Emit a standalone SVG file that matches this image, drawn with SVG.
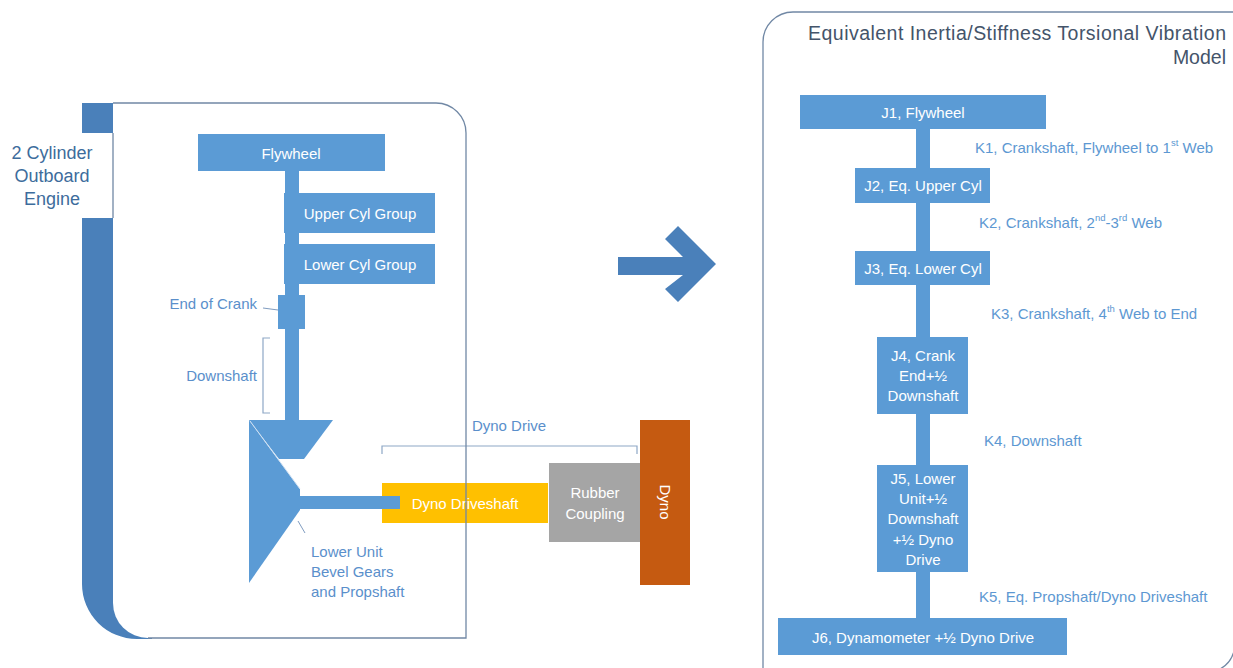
<svg xmlns="http://www.w3.org/2000/svg" width="1233" height="668" viewBox="0 0 1233 668">
<defs>
<style>
text{font-family:"Liberation Sans",Arial,sans-serif;}
.box{fill:#5b9bd5;}
.shaft{fill:#5b9bd5;}
.wt{fill:#ffffff;font-size:15px;text-anchor:middle;dominant-baseline:central;}
.k{fill:#5d98d2;font-size:15px;dominant-baseline:central;}
.ann{fill:#5a8fcb;font-size:15px;dominant-baseline:central;}
.brk{fill:none;stroke:#8ea7c6;stroke-width:1.2;}
.panel{fill:none;stroke:#7188a5;stroke-width:1.3;}
</style>
</defs>
<rect width="1233" height="668" fill="#ffffff"/>

<!-- Left engine panel -->
<g id="engine-panel">
<rect x="82" y="103" width="31" height="30" fill="#4a80ba"/>
<path d="M82,218 H114 V590 H152 V639 H137 A55,55 0 0 1 82,584 Z" fill="#4a80ba"/>
<path d="M113,103 H436 A30,30 0 0 1 466,133 V638 H148 A35,35 0 0 1 113,603 Z" fill="#ffffff"/>
<text x="52" y="153" fill="#3d6c9c" font-size="18" text-anchor="middle" dominant-baseline="central">2 Cylinder</text>
<text x="52" y="176" fill="#3d6c9c" font-size="18" text-anchor="middle" dominant-baseline="central">Outboard</text>
<text x="52" y="199" fill="#3d6c9c" font-size="18" text-anchor="middle" dominant-baseline="central">Engine</text>
</g>

<g id="connectors">
<rect class="shaft" x="285" y="171" width="14" height="250"/>
<rect class="shaft" x="916" y="128" width="14" height="492"/>
<rect class="shaft" x="299" y="496" width="101" height="13"/>
</g>

<g id="flywheel">
<rect class="box" x="198" y="134" width="187" height="37"/>
<text class="wt" x="291" y="153">Flywheel</text>
</g>
<g id="upper-cyl">
<rect class="box" x="284" y="193" width="151" height="40"/>
<text class="wt" x="360" y="213" font-size="16">Upper Cyl Group</text>
</g>
<g id="lower-cyl">
<rect class="box" x="284" y="244" width="151" height="40"/>
<text class="wt" x="360" y="264" font-size="16">Lower Cyl Group</text>
</g>
<g id="end-of-crank">
<rect class="box" x="278" y="295" width="27" height="34"/>
<text class="ann" x="257" y="303" text-anchor="end">End of Crank</text>
<line x1="263" y1="308" x2="278" y2="310" stroke="#7f9cc0" stroke-width="1"/>
</g>
<g id="downshaft">
<path class="brk" d="M270,338 H263 V413 H270"/>
<text class="ann" x="257" y="375" text-anchor="end">Downshaft</text>
</g>
<g id="bevel-gears">
<polygon class="box" points="249,420 333,420 304,459 279,459"/>
<polygon class="box" points="249,420 300,489 300,510 249,583"/>
<line x1="250" y1="421" x2="300" y2="489" stroke="#cfe0f2" stroke-width="1"/>
<line x1="298" y1="521" x2="305" y2="533" stroke="#7f9cc0" stroke-width="1"/>
<text class="ann" x="311" y="551">Lower Unit</text>
<text class="ann" x="311" y="571">Bevel Gears</text>
<text class="ann" x="311" y="591">and Propshaft</text>
</g>
<g id="dyno-driveshaft">
<rect x="382" y="483" width="166" height="40" fill="#ffc000"/>
<rect class="shaft" x="299" y="496" width="101" height="13"/>
<text class="wt" x="465" y="503">Dyno Driveshaft</text>
</g>
<g id="rubber-coupling">
<rect x="549" y="463" width="91" height="79" fill="#a5a5a5"/>
<text class="wt" x="595" y="492">Rubber</text>
<text class="wt" x="595" y="513">Coupling</text>
</g>
<g id="dyno">
<rect x="640" y="420" width="50" height="165" fill="#c55a11"/>
<text class="wt" x="665" y="502" transform="rotate(90 665 502)">Dyno</text>
</g>
<g id="dyno-drive">
<path class="brk" d="M382,454 V446 H637 V454"/>
<text class="ann" x="509" y="425" text-anchor="middle">Dyno Drive</text>
</g>
<path class="panel" d="M148,638 H466 V133 A30,30 0 0 0 436,103 H113 M113,133 V218"/>

<!-- Arrow -->
<g id="arrow">
<polygon points="618,257 683,257 665,239 678,226 716,264 678,302 665,289 683,275 618,275" fill="#4a80ba"/>
</g>

<!-- Right model panel -->
<g id="model-panel">
<path class="panel" d="M763,668 V42 A30,30 0 0 1 793,12 H1233"/>
<path class="panel" d="M1234,651 Q1231,663 1220,669"/>
<text x="1226" y="33" fill="#44546a" font-size="19.5" text-anchor="end" dominant-baseline="central" textLength="418" lengthAdjust="spacing">Equivalent Inertia/Stiffness Torsional Vibration</text>
<text x="1226" y="57" fill="#44546a" font-size="19.5" text-anchor="end" dominant-baseline="central">Model</text>
</g>
<g id="j1">
<rect class="box" x="800" y="95" width="246" height="34"/>
<text class="wt" x="923" y="112">J1, Flywheel</text>
</g>
<g id="j2">
<rect class="box" x="855" y="168" width="135" height="35"/>
<text class="wt" x="923" y="185">J2, Eq. Upper Cyl</text>
</g>
<g id="j3">
<rect class="box" x="855" y="251" width="135" height="34"/>
<text class="wt" x="923" y="268">J3, Eq. Lower Cyl</text>
</g>
<g id="j4">
<rect class="box" x="877" y="337" width="91" height="77"/>
<text class="wt" x="923" y="355">J4, Crank</text>
<text class="wt" x="923" y="375">End+½</text>
<text class="wt" x="923" y="395">Downshaft</text>
</g>
<g id="j5">
<rect class="box" x="877" y="465" width="91" height="107"/>
<text class="wt" x="923" y="478">J5, Lower</text>
<text class="wt" x="923" y="498">Unit+½</text>
<text class="wt" x="923" y="518">Downshaft</text>
<text class="wt" x="923" y="539">+½ Dyno</text>
<text class="wt" x="923" y="559">Drive</text>
</g>
<g id="j6">
<rect class="box" x="778" y="618" width="289" height="37"/>
<text class="wt" x="923" y="637">J6, Dynamometer +½ Dyno Drive</text>
</g>
<g id="k-labels">
<text class="k" x="975" y="147">K1, Crankshaft, Flywheel to 1<tspan font-size="9.5" dy="-5">st</tspan><tspan dy="5"> Web</tspan></text>
<text class="k" x="979" y="222">K2, Crankshaft, 2<tspan font-size="9.5" dy="-5">nd</tspan><tspan dy="5">-3</tspan><tspan font-size="9.5" dy="-5">rd</tspan><tspan dy="5"> Web</tspan></text>
<text class="k" x="991" y="313">K3, Crankshaft, 4<tspan font-size="9.5" dy="-5">th</tspan><tspan dy="5"> Web to End</tspan></text>
<text class="k" x="984" y="440">K4, Downshaft</text>
<text class="k" x="979" y="596">K5, Eq. Propshaft/Dyno Driveshaft</text>
</g>
</svg>
